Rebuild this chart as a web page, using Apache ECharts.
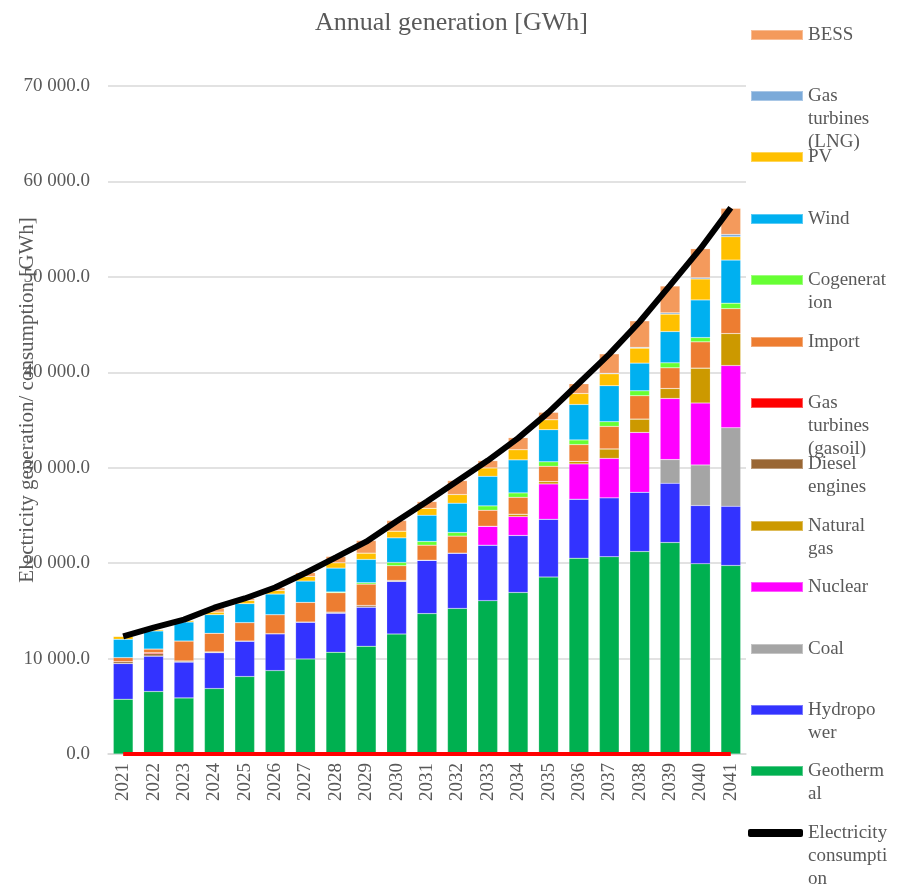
<!DOCTYPE html>
<html>
<head>
	<meta charset="utf-8">
	<title>Annual generation</title>
	<style type="text/css">
		body{
			margin: 0px;
		}
		.chart{
			width: 903px;
			height: 893px;
		}
	</style>
	<script type="text/javascript" src="https://cdn.jsdelivr.net/npm/echarts@6/dist/echarts.min.js"></script>
</head>
<body>
	<div id="chart" class="chart"></div>
	<script type="text/javascript">
		var years = ['2021', '2022', '2023', '2024', '2025', '2026', '2027', '2028', '2029', '2030', '2031',
			'2032', '2033', '2034', '2035', '2036', '2037', '2038', '2039', '2040', '2041'];

		// stacked from the bottom up
		var geothermal = [5740, 6550, 5880, 6860, 8120, 8740, 9960, 10660, 11290, 12570, 14710, 15260, 16070, 16930, 18540, 20520, 20670, 21220, 22160, 19940, 19760];
		var hydropower = [3740, 3720, 3770, 3770, 3720, 3870, 3870, 4110, 4110, 5520, 5600, 5790, 5810, 5970, 6060, 6180, 6170, 6210, 6210, 6100, 6200];
		var coal = [0, 0, 0, 0, 0, 0, 0, 0, 0, 0, 0, 0, 0, 0, 0, 0, 0, 0, 2480, 4250, 8230];
		var nuclear = [0, 0, 0, 0, 0, 0, 0, 0, 0, 0, 0, 0, 1990, 1980, 3700, 3700, 4140, 6270, 6410, 6490, 6520];
		var naturalGas = [0, 0, 0, 0, 0, 0, 0, 0, 0, 0, 0, 0, 0, 250, 250, 270, 990, 1400, 1040, 3660, 3350];
		var diesel = [190, 240, 100, 70, 0, 0, 0, 100, 170, 100, 0, 0, 0, 0, 0, 0, 0, 0, 0, 0, 0];
		var gasoil = [0, 100, 0, 0, 0, 0, 0, 0, 0, 0, 0, 0, 0, 0, 0, 0, 0, 0, 0, 0, 0];
		var importEl = [430, 390, 2090, 1950, 1930, 1990, 2060, 2030, 2230, 1540, 1570, 1780, 1670, 1770, 1600, 1750, 2360, 2440, 2170, 2750, 2610];
		var cogeneration = [0, 0, 0, 0, 0, 0, 0, 80, 150, 340, 390, 380, 460, 460, 470, 490, 490, 520, 520, 450, 570];
		var wind = [1920, 1890, 1990, 1950, 1980, 2160, 2230, 2500, 2440, 2580, 2750, 3070, 3100, 3460, 3360, 3720, 3770, 2900, 3280, 3940, 4520];
		var pv = [310, 140, 170, 270, 350, 380, 490, 560, 660, 700, 730, 910, 880, 1070, 1050, 1150, 1250, 1570, 1820, 2200, 2440];
		var gasLng = [0, 0, 0, 0, 0, 0, 0, 0, 0, 0, 0, 0, 0, 0, 0, 0, 60, 80, 140, 130, 250];
		var bess = [0, 0, 0, 420, 180, 290, 390, 660, 1320, 1120, 700, 1460, 760, 1260, 770, 1020, 2030, 2780, 2810, 3040, 2730];
		var consumption = [12330, 13250, 14080, 15330, 16300, 17450, 18970, 20600, 22250, 24400, 26450, 28600, 30750, 33100, 35800, 38850, 41900, 45300, 49100, 52950, 57250];
		var zeroLine = [0, 0, 0, 0, 0, 0, 0, 0, 0, 0, 0, 0, 0, 0, 0, 0, 0, 0, 0, 0, 0];

		var font = 'Liberation Serif';
		var grey = '#595959';

		var bars = [
			{name: 'Geothermal', data: geothermal, color: '#00B050', label: 'Geotherm\nal'},
			{name: 'Hydropower', data: hydropower, color: '#3333FF', label: 'Hydropo\nwer'},
			{name: 'Coal', data: coal, color: '#A5A5A5', label: 'Coal'},
			{name: 'Nuclear', data: nuclear, color: '#FF00FF', label: 'Nuclear'},
			{name: 'Natural gas', data: naturalGas, color: '#CC9900', label: 'Natural\ngas'},
			{name: 'Diesel engines', data: diesel, color: '#996633', label: 'Diesel\nengines'},
			{name: 'Gas turbines (gasoil)', data: gasoil, color: '#FF0000', label: 'Gas\nturbines\n(gasoil)'},
			{name: 'Import', data: importEl, color: '#ED7D31', label: 'Import'},
			{name: 'Cogeneration', data: cogeneration, color: '#66FF33', label: 'Cogenerat\nion'},
			{name: 'Wind', data: wind, color: '#00B0F0', label: 'Wind'},
			{name: 'PV', data: pv, color: '#FFC000', label: 'PV'},
			{name: 'Gas turbines (LNG)', data: gasLng, color: '#7BAAD9', label: 'Gas\nturbines\n(LNG)'},
			{name: 'BESS', data: bess, color: '#F49A5C', label: 'BESS'}
		];

		var series = bars.map(function(b){
			return {
				name: b.name,
				type: 'bar',
				stack: 'gen',
				barWidth: '65%',
				data: b.data,
				itemStyle: {color: b.color, borderColor: 'rgba(255,255,255,0.35)', borderWidth: 0.5}
			};
		});
		series.push({
			name: 'zero',
			type: 'line',
			data: zeroLine,
			symbol: 'none',
			z: 5,
			lineStyle: {color: '#FF0000', width: 4},
			itemStyle: {color: '#FF0000'}
		});
		series.push({
			name: 'Electricity consumption',
			type: 'line',
			data: consumption,
			symbol: 'none',
			z: 6,
			lineStyle: {color: '#000000', width: 6},
			itemStyle: {color: '#000000'}
		});

		// legend entries, top to bottom; first text line sits beside the icon
		var legendItems = bars.slice().reverse().map(function(b){ return {name: b.name, label: b.label}; });
		legendItems.push({name: 'Electricity consumption', label: 'Electricity\nconsumpti\non'});
		var legendCenters = [35, 96, 157, 219, 280, 342, 403, 464, 526, 587, 649, 710, 771, 833];

		var legends = legendItems.map(function(item, i){
			var lines = item.label.split('\n').length;
			var isLine = item.name === 'Electricity consumption';
			var h = isLine ? 8 : 10;
			var blank = new Array(lines).join('\n');
			return {
				data: [{name: item.name, icon: isLine ? 'roundRect' : 'rect'}],
				left: isLine ? 748 : 750,
				top: legendCenters[i] - Math.max(h / 2, (2 * lines - 1) * 11.5),
				padding: 0,
				itemWidth: isLine ? 55 : 52,
				itemHeight: h,
				selectedMode: false,
				formatter: function(){ return blank + item.label; },
				textStyle: {
					fontFamily: font,
					fontSize: 19,
					color: grey,
					lineHeight: 23
				}
			};
		});

		window.onload = function(){
			var chart = echarts.init(document.getElementById('chart'));
			chart.setOption({
				animation: false,
				backgroundColor: '#ffffff',
				title: {
					text: 'Annual generation [GWh]',
					left: 'center',
					top: 5,
					textStyle: {
						fontFamily: font,
						fontSize: 26,
						fontWeight: 'normal',
						color: grey
					}
				},
				legend: legends,
				grid: {
					left: 108,
					right: 157,
					top: 86,
					bottom: 139,
					outerBoundsMode: 'none'
				},
				xAxis: {
					type: 'category',
					data: years,
					axisLine: {
						lineStyle: {color: '#d9d9d9', width: 1.5}
					},
					axisTick: {show: false},
					axisLabel: {
						rotate: 90,
						margin: 9,
						fontFamily: font,
						fontSize: 19,
						color: grey
					}
				},
				yAxis: {
					type: 'value',
					min: 0,
					max: 70000,
					interval: 10000,
					name: 'Electricity generation/ consumption [GWh]',
					nameLocation: 'middle',
					nameGap: 70,
					nameMoveOverlap: false,
					nameTextStyle: {
						fontFamily: font,
						fontSize: 21,
						color: grey,
						padding: [0, 0, 0, 40]
					},
					axisLine: {show: false},
					axisTick: {show: false},
					splitLine: {
						lineStyle: {color: '#d9d9d9', width: 1.5}
					},
					axisLabel: {
						margin: 18,
						fontFamily: font,
						fontSize: 19,
						color: grey,
						formatter: function(v){
							var s = v.toFixed(1);
							var parts = s.split('.');
							return parts[0].replace(/\B(?=(\d{3})+(?!\d))/g, ' ') + '.' + parts[1];
						}
					}
				},
				series: series
			});
		};
	</script>
</body>
</html>
